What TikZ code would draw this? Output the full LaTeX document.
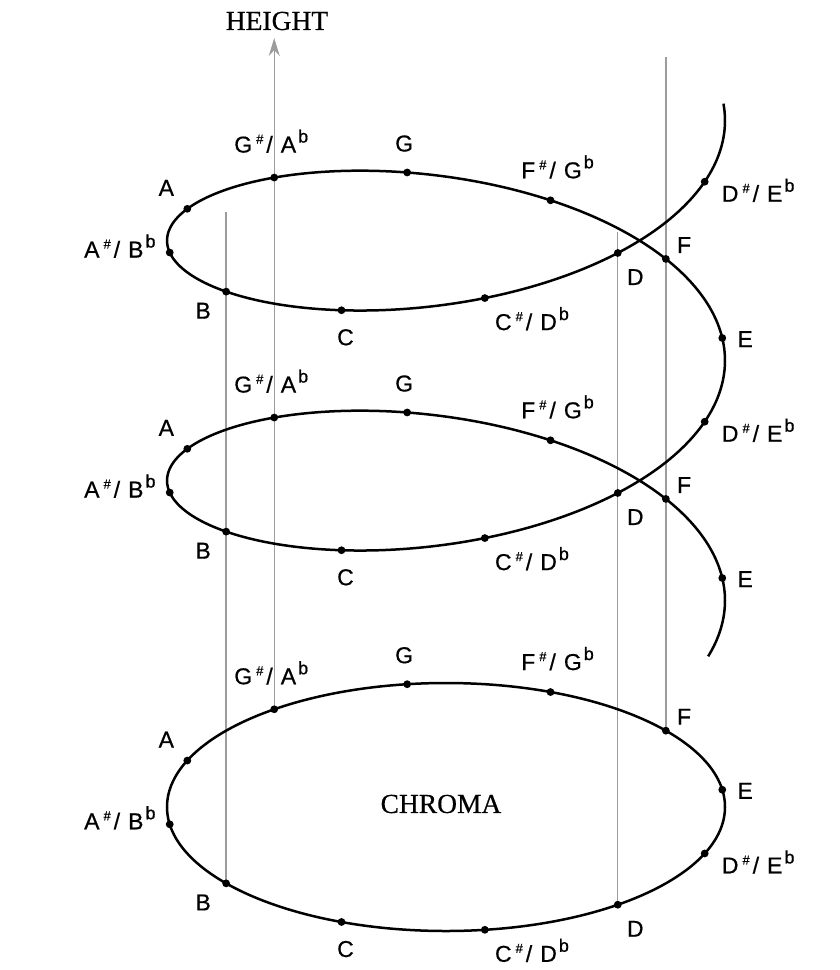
\documentclass[tikz,border=0pt]{standalone}
\usepackage{fontspec}
\setmainfont[FakeBold=0.5]{Liberation Serif}
\newfontfamily\notefont[FakeBold=0.6]{Liberation Sans}
\usetikzlibrary{arrows.meta}
\definecolor{hguide}{HTML}{9C9C9C}
\newcommand{\accid}[2]{#1\hspace{4pt}\raisebox{9pt}{\fontsize{13}{13}\selectfont\#}\hspace{3pt}/\hspace{8pt}#2\hspace{2pt}\raisebox{10pt}{\fontsize{18}{18}\selectfont b}}

\begin{document}
\begin{tikzpicture}[x=1pt, y=-1pt,
    curve/.style={line width=2.5pt, black},
    guide/.style={hguide, line width=1.3pt},
    notelab/.style={font=\notefont\fontsize{23}{23}\selectfont, inner sep=0pt},
    axislab/.style={font=\fontsize{27.5}{28}\selectfont, inner sep=0pt}]

  \useasboundingbox (0,0) rectangle (839,970);

  %% note positions: chroma circle and helix
  \foreach \n in {0,...,11}{
    \coordinate (c\n) at ({446+279*cos(248+30*\n)},{807-124*sin(248+30*\n)});
  }
  \foreach \k in {0,...,23}{
    \pgfmathsetmacro{\t}{8+30*\k}
    \coordinate (h\k) at ({446+279*cos(\t)},{600.6-124*sin(\t)-2/3*\t});
  }

  %% vertical guides
  \draw[guide] (c11) -- (c11 |- 0,212);
  \draw[guide] (c2) -- (c2 |- 0,232);
  \draw[guide] (c5) -- (c5 |- 0,57);
  \draw[guide, -{Stealth[length=18pt, width=11pt]}] (c8) -- (c8 |- 0,38);
  \node[axislab] (height) at (277,21) {HEIGHT};
  \node[axislab] (chroma) at (441,804) {CHROMA};

  %% curves
  \draw[curve] (446,807) ellipse [x radius=279, y radius=124];
  \draw[curve] plot[domain=-20:726, samples=300, smooth]
    ({446+279*cos(\x)},{600.6-124*sin(\x)-2/3*\x});

  %% dots
  \foreach \n in {0,...,11} \fill (c\n) circle (3.9pt);
  \foreach \k in {0,...,23} \fill (h\k) circle (3.9pt);

  %% note labels
  \foreach \n/\txt/\anc/\dx/\dy in {
      0/C/base/4/35,
      1/{\accid{C}{D}}/base west/10/32,
      2/D/base west/9/32,
      3/{\accid{D}{E}}/base west/17/20,
      4/E/base west/15/9,
      5/F/base west/11/-6,
      6/{\accid{F}{G}}/base/7/-22,
      7/G/base/-3/-21,
      8/{\accid{G}{A}}/base/-3/-25,
      9/A/base/-21/-13,
      10/{\accid{A}{B}}/base east/-14/5,
      11/B/base/-23/27}{
    \pgfmathtruncatemacro{\ka}{mod(\n+8,12)}
    \pgfmathtruncatemacro{\kb}{\ka+12}
    \foreach \p in {c\n, h\ka, h\kb}
      \node[notelab, anchor=\anc] (l\p) at ([shift={(\dx,\dy)}]\p) {\txt};
  }

\end{tikzpicture}
\end{document}
